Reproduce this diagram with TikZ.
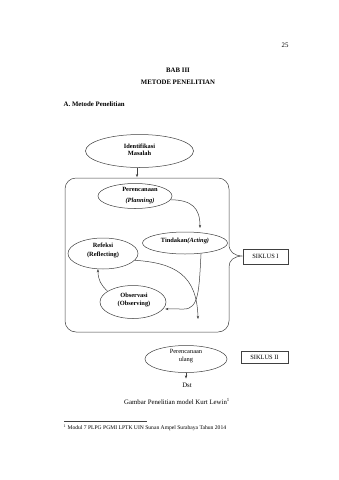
\documentclass[tikz,border=0pt]{standalone}
\usepackage{fontspec}
\setmainfont{Liberation Serif}
\usetikzlibrary{shapes.geometric,arrows.meta}
\newcommand\bodyfont{\fontsize{6.8}{8}\selectfont}
\newcommand\diafont{\fontsize{6.4}{7.4}\selectfont}
\newcommand\footfont{\fontsize{5.6}{6.5}\selectfont}
\definecolor{lcol}{gray}{0.25}
\begin{document}
\begin{tikzpicture}[x=1pt,y=-1pt,
  ell/.style={draw=lcol, ellipse, inner sep=0pt, line width=0.5pt},
  dtxt/.style={inner sep=0pt, align=center, font=\diafont\bfseries},
  btxt/.style={inner sep=0pt, font=\bodyfont},
  sbox/.style={draw=lcol, rectangle, inner sep=0pt, line width=0.5pt, font=\diafont},
  arr/.style={draw=lcol, -{Stealth[length=3.2pt,width=2.4pt]}, line width=0.5pt},
  ln/.style={draw=lcol, line width=0.5pt}]
\useasboundingbox[fill=white] (0,0) rectangle (339,480);

% page texts
\node[btxt] (pg) at (285,45) {25};
\node[btxt, font=\bodyfont\bfseries] (bab) at (178,70) {BAB III};
\node[btxt, font=\bodyfont\bfseries] (met) at (178,82) {METODE PENELITIAN};
\node[btxt, font=\bodyfont\bfseries, anchor=west] (sec) at (63.5,104) {A. Metode Penelitian};

% Identifikasi
\node[ell, minimum width=108, minimum height=33] (iden) at (139.5,151) {};
\node[dtxt] (identxt) at (139.5,150) {Identifikasi\\Masalah};

% cycle frame with brace
\draw[ln, rounded corners=11pt] (229,244) -- (229,178) -- (65,178) -- (65,332) -- (229,332) -- (229,267);
\draw[ln] (229,244) .. controls (229,252) and (234,255.5) .. (242,256)
          .. controls (234,256.5) and (229,260) .. (229,267);
\coordinate (boxtop) at (137,177.2);
\draw[arr] (iden.south -| boxtop) -- (boxtop);

% cycle nodes
\node[ell, minimum width=74, minimum height=25] (plan) at (135,196) {};
\node[dtxt] (plantxt) at (140,196) {Perencanaan\\[3.5pt]\textit{(Planning)}};

\node[ell, minimum width=85, minimum height=22] (act) at (185,243) {};
\node[dtxt] (acttxt) at (185,241) {Tindakan\textit{(Acting)}};

\node[ell, minimum width=70, minimum height=31] (refl) at (103,253.5) {};
\node[dtxt] (refltxt) at (103,250.5) {Refeksi\\[2pt](Reflecting)};

\node[ell, minimum width=66, minimum height=33] (obs) at (133,302) {};
\node[dtxt] (obstxt) at (134,300) {Observasi\\[0.5pt](Observing)};

% cycle arrows
\coordinate (acttop) at (200,228);
\draw[arr] (plan.-6) .. controls (192,200) and (200,208) .. (acttop);
\draw[arr, shorten >=2pt] (act.-33) .. controls (199,290) and (199,309) .. (184,309) -- (obs.-13);
\coordinate (cyc) at (198,319);
\draw[arr] (refl.-12) .. controls (175,263) and (197,275) .. (cyc);
\draw[arr] (obs.157) .. controls (101,285) and (98,280) .. (refl.252);

% siklus boxes
\node[sbox, minimum width=45, minimum height=14.5] (s1) at (265.5,256.5) {SIKLUS I};
\node[sbox, minimum width=47, minimum height=12] (s2) at (264.5,357.5) {SIKLUS II};

% second cycle
\node[ell, minimum width=82, minimum height=27] (ulang) at (186,359) {};
\node[dtxt, font=\diafont] (ulangtxt) at (186,356) {Perencanaan\\ulang};
\node[btxt, inner sep=1pt] (dst) at (187,385) {Dst};
\draw[arr, shorten >=3pt] (ulang.south) -- (ulang.south |- dst.north);

% caption and footnote
\node[btxt] (cap) at (177,401) {Gambar Penelitian model Kurt Lewin\textsuperscript{1}};
\coordinate (fnl) at (64,421);
\coordinate (fnr) at (147,421);
\draw[ln, line width=0.4pt] (fnl) -- (fnr);
\node[inner sep=0pt, font=\footfont, anchor=west] (fn) at (63.5,428) {\textsuperscript{1} Modul 7 PLPG PGMI LPTK UIN Sunan Ampel Surabaya Tahun 2014};
\end{tikzpicture}
\end{document}
